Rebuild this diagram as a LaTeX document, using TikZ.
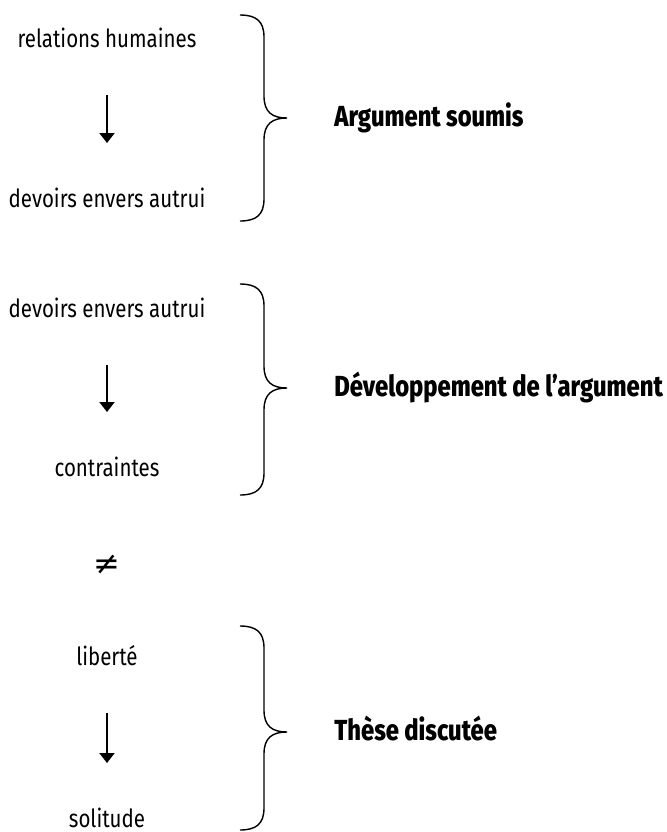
\documentclass[tikz,border=0pt]{standalone}
\usepackage{fontspec}
\setmainfont{Fira Sans}[FakeStretch=0.82,BoldFont={Fira Sans ExtraBold}]
\newfontfamily\symbfont{DejaVu Sans}
\usetikzlibrary{arrows.meta}

\begin{document}
\begin{tikzpicture}[x=0.5pt,y=-0.5pt,
  terme/.style={anchor=base,font=\fontsize{12.5}{14}\selectfont},
  titre/.style={anchor=base west,inner sep=0pt,font=\fontsize{14.5}{16}\selectfont\bfseries},
  fleche/.style={-{Triangle[width=7.5pt,length=5pt]},line width=1pt,shorten <=24pt,shorten >=32pt},
  accolade/.style={line width=0.7pt}]
\useasboundingbox (0,0) rectangle (666,832);
% argument soumis
\node [terme] (rel) at (107,47) {relations humaines};
\node [terme] (devA) at (107,207) {devoirs envers autrui};
\draw [fleche] (rel.base) -- (devA.base);
\draw [accolade] (240,15) .. controls (256,15) and (264,21) .. (264,37) -- (264,96)
  .. controls (264,112) and (272,118) .. (287,118) .. controls (272,118) and (264,124) .. (264,140)
  -- (264,199) .. controls (264,215) and (256,221) .. (240,221);
\node [titre] (soumis) at (334,126) {Argument soumis};
% developpement
\node [terme] (devB) at (107,317) {devoirs envers autrui};
\node [terme] (contr) at (107,476) {contraintes};
\draw [fleche] (devB.base) -- (contr.base);
\draw [accolade] (240,284) .. controls (256,284) and (264,290) .. (264,306) -- (264,366)
  .. controls (264,382) and (272,388) .. (287,388) .. controls (272,388) and (264,394) .. (264,410)
  -- (264,473) .. controls (264,489) and (256,495) .. (240,495);
\node [titre] (devel) at (334,396) {Développement de l’argument};
\node (neq) at (107,565) {\fontsize{16}{18}\symbfont ≠};
% these
\node [terme] (lib) at (107,665) {liberté};
\node [terme] (sol) at (107,827) {solitude};
\draw [fleche] (lib.base) -- (sol.base);
\draw [accolade] (240,626) .. controls (256,626) and (264,632) .. (264,648) -- (264,710)
  .. controls (264,726) and (272,732) .. (287,732) .. controls (272,732) and (264,738) .. (264,754)
  -- (264,808) .. controls (264,824) and (256,830) .. (240,830);
\node [titre] (these) at (334,740) {Thèse discutée};
\end{tikzpicture}
\end{document}
